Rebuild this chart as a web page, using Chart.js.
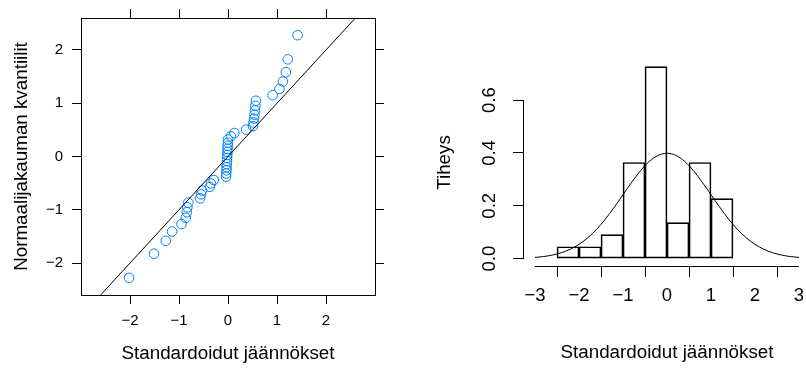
<!DOCTYPE html>
<html>
<head>
<meta charset="utf-8">
<script src="https://cdn.jsdelivr.net/npm/chart.js@4.4.1/dist/chart.umd.min.js"></script>
<style>
  html, body { margin: 0; padding: 0; background: #fff; width: 806px; height: 370px; overflow: hidden; }
  #wrap { position: relative; width: 806px; height: 370px; overflow: hidden; }
  canvas { position: absolute; top: 0; }
  #qq { left: 0; }
  #hist { left: 410px; }
</style>
</head>
<body>
<div id="wrap">
  <canvas id="qq" width="400" height="370"></canvas>
  <canvas id="hist" width="410" height="370"></canvas>
</div>
<script>
// ---------- data ----------
// Left panel: sorted standardized residuals (x) vs normal quantiles (y)
const residuals = [
  -2.02, -1.51, -1.27, -1.14, -0.95, -0.86, -0.84, -0.83, -0.81, -0.57,
  -0.55, -0.53, -0.37, -0.35, -0.29, -0.04, -0.035, -0.03, -0.03, -0.025,
  -0.02, -0.02, -0.015, -0.01, -0.01, -0.005, 0.0, 0.0, 0.06, 0.13,
  0.37, 0.51, 0.52, 0.53, 0.54, 0.55, 0.56, 0.57, 0.91, 1.05,
  1.12, 1.18, 1.22, 1.42
];
const normalQuantiles = [
  -2.278, -1.824, -1.582, -1.408, -1.269, -1.150, -1.046, -0.952, -0.866, -0.786,
  -0.711, -0.639, -0.571, -0.505, -0.441, -0.379, -0.319, -0.259, -0.201, -0.143,
  -0.086, -0.029, 0.029, 0.086, 0.143, 0.201, 0.259, 0.319, 0.379, 0.441,
  0.505, 0.571, 0.639, 0.711, 0.786, 0.866, 0.952, 1.046, 1.150, 1.269,
  1.408, 1.582, 1.824, 2.278
];
const refLineIntercept = 0;
const refLineSlope = 1;
const qqXTicks = [-2, -1, 0, 1, 2];
const qqYTicks = [-2, -1, 0, 1, 2];

// Right panel: histogram (density) and normal density curve
const binMids = [-2.25, -1.75, -1.25, -0.75, -0.25, 0.25, 0.75, 1.25];
const binDensity = [0.045, 0.045, 0.091, 0.364, 0.727, 0.136, 0.364, 0.227];
const curveX = [-3, -2.8, -2.6, -2.4, -2.2, -2, -1.8, -1.6, -1.4, -1.2, -1, -0.8, -0.6, -0.4, -0.2, 0,
                0.2, 0.4, 0.6, 0.8, 1, 1.2, 1.4, 1.6, 1.8, 2, 2.2, 2.4, 2.6, 2.8, 3];
const curveY = [0.0044, 0.0079, 0.0136, 0.0224, 0.0355, 0.0540, 0.0790, 0.1109, 0.1497, 0.1942, 0.2420,
                0.2897, 0.3332, 0.3683, 0.3910, 0.3989, 0.3910, 0.3683, 0.3332, 0.2897, 0.2420,
                0.1942, 0.1497, 0.1109, 0.0790, 0.0540, 0.0355, 0.0224, 0.0136, 0.0079, 0.0044];
const histXTicks = [-3, -2, -1, 0, 1, 2, 3];
const histYTicks = [0, 0.2, 0.4, 0.6];

const xTitle = 'Standardoidut jäännökset';
const qqYTitle = 'Normaalijakauman kvantiilit';
const histYTitle = 'Tiheys';

// ---------- helpers ----------
const FONT = '"Liberation Sans", Arial, Helvetica, sans-serif';
Chart.defaults.font.family = FONT;
Chart.defaults.color = '#000';
const fmtSigned = v => (v < 0 ? '\u2212' + Math.abs(v) : String(v));
const setTicks = arr => (scale) => { scale.ticks = arr.map(v => ({ value: v })); };
const fixSize = (prop, val) => (scale) => { scale[prop] = val; };
const TITLE_SIZE = 18.8;

// ---------- left: QQ plot (lattice style) ----------
const qqPoints = residuals.map((r, i) => ({ x: r, y: normalQuantiles[i] }));
const qqXMin = -3, qqXMax = 3;
const qqLine = [qqXMin, qqXMax].map(x => ({ x: x, y: refLineIntercept + refLineSlope * x }));

const boxGrid = { drawOnChartArea: false, drawTicks: true, tickLength: 9, color: '#000', lineWidth: 1 };
const boxBorder = { display: true, color: '#000', width: 1 };

new Chart(document.getElementById('qq'), {
  type: 'scatter',
  data: {
    datasets: [
      {
        data: qqPoints,
        showLine: false,
        pointStyle: 'circle',
        pointRadius: 4.8,
        pointBorderWidth: 1,
        pointBorderColor: '#0080ff',
        pointBackgroundColor: 'rgba(0,0,0,0)',
        order: 1
      },
      {
        type: 'line',
        data: qqLine,
        borderColor: '#000',
        borderWidth: 1,
        pointRadius: 0,
        fill: false,
        order: 0
      }
    ]
  },
  options: {
    responsive: false,
    animation: false,
    devicePixelRatio: 1,
    layout: { padding: 0 },
    plugins: { legend: { display: false }, tooltip: { enabled: false } },
    scales: {
      x: {
        type: 'linear', position: 'bottom', min: qqXMin, max: qqXMax,
        afterBuildTicks: setTicks(qqXTicks),
        afterFit: fixSize('height', 75),
        grid: boxGrid, border: boxBorder,
        ticks: { font: { size: 15 }, padding: 8, callback: fmtSigned, maxRotation: 0 },
        title: { display: true, text: xTitle, font: { size: TITLE_SIZE }, padding: { top: 0, bottom: 4.7 } }
      },
      x2: {
        type: 'linear', position: 'top', axis: 'x', min: qqXMin, max: qqXMax,
        afterBuildTicks: setTicks(qqXTicks),
        afterFit: fixSize('height', 18),
        grid: boxGrid, border: boxBorder,
        ticks: { display: false }
      },
      y: {
        type: 'linear', position: 'left', min: -2.6, max: 2.6,
        afterBuildTicks: setTicks(qqYTicks),
        afterFit: fixSize('width', 81),
        grid: boxGrid, border: boxBorder,
        ticks: { font: { size: 15 }, padding: 9, callback: fmtSigned },
        title: { display: true, text: qqYTitle, font: { size: TITLE_SIZE }, padding: { top: 10.4, bottom: 0 } }
      },
      y2: {
        type: 'linear', position: 'right', axis: 'y', min: -2.6, max: 2.6,
        afterBuildTicks: setTicks(qqYTicks),
        afterFit: fixSize('width', 25),
        grid: boxGrid, border: boxBorder,
        ticks: { display: false }
      }
    }
  }
});

// ---------- right: histogram (base R style) ----------
const rAxisLines = {
  id: 'rAxisLines',
  afterDraw(chart) {
    const ctx = chart.ctx, a = chart.chartArea;
    const xs = chart.scales.x, ys = chart.scales.y;
    const xt = xs.ticks, yt = ys.ticks;
    ctx.save();
    ctx.strokeStyle = '#000';
    ctx.lineWidth = 1;
    ctx.beginPath();
    const yb = Math.round(a.bottom) + 0.5;
    ctx.moveTo(xs.getPixelForValue(xt[0].value), yb);
    ctx.lineTo(xs.getPixelForValue(xt[xt.length - 1].value), yb);
    const xl = Math.round(a.left) - 0.5;
    ctx.moveTo(xl, ys.getPixelForValue(yt[0].value));
    ctx.lineTo(xl, ys.getPixelForValue(yt[yt.length - 1].value));
    ctx.stroke();
    ctx.restore();
  }
};

const rGrid = { drawOnChartArea: false, drawTicks: true, tickLength: 11, color: '#000', lineWidth: 1 };

new Chart(document.getElementById('hist'), {
  type: 'bar',
  data: {
    datasets: [
      {
        type: 'bar',
        data: binMids.map((m, i) => ({ x: m, y: binDensity[i] })),
        backgroundColor: 'rgba(0,0,0,0)',
        borderColor: '#000',
        borderWidth: 1,
        borderSkipped: false,
        barPercentage: 1,
        categoryPercentage: 1,
        order: 1
      },
      {
        type: 'line',
        data: curveX.map((x, i) => ({ x: x, y: curveY[i] })),
        borderColor: '#000',
        borderWidth: 1,
        pointRadius: 0,
        fill: false,
        cubicInterpolationMode: 'monotone',
        order: 0
      }
    ]
  },
  options: {
    responsive: false,
    animation: false,
    devicePixelRatio: 1,
    layout: { padding: { top: 59, right: 10, left: 0, bottom: 0 } },
    plugins: { legend: { display: false }, tooltip: { enabled: false } },
    scales: {
      x: {
        type: 'linear', position: 'bottom', min: -3.25, max: 3.25, offset: false,
        afterBuildTicks: setTicks(histXTicks),
        afterFit: fixSize('height', 104),
        grid: rGrid, border: { display: false },
        ticks: { font: { size: 18.5 }, padding: 8, callback: fmtSigned, maxRotation: 0 },
        title: { display: true, text: xTitle, font: { size: TITLE_SIZE }, padding: { top: 0, bottom: 5.7 } }
      },
      y: {
        type: 'linear', position: 'left', min: -0.028, max: 0.756,
        afterBuildTicks: setTicks(histYTicks),
        afterFit: fixSize('width', 114),
        grid: rGrid, border: { display: false },
        ticks: { font: { size: 18.5 }, padding: 10, minRotation: 90, maxRotation: 90, crossAlign: 'center',
                 callback: v => v.toFixed(1) },
        title: { display: true, text: histYTitle, font: { size: TITLE_SIZE }, padding: { top: 23.7, bottom: 0 } }
      }
    }
  },
  plugins: [rAxisLines]
});
</script>
</body>
</html>
